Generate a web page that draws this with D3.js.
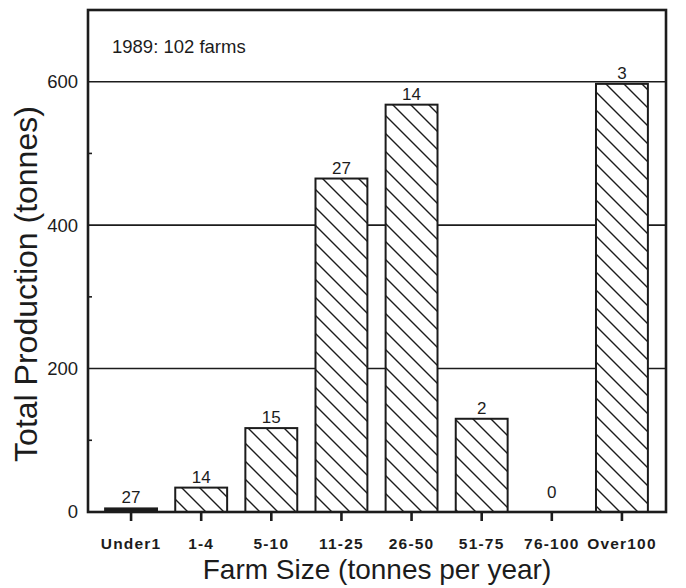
<!DOCTYPE html>
<html><head><meta charset="utf-8">
<script src="https://cdn.jsdelivr.net/npm/d3@7"></script>
<style>body{margin:0;background:#fff;}svg{display:block;font-family:"Liberation Sans",Arial,Helvetica,sans-serif;}</style>
</head><body>
<svg id="c" width="686" height="588"></svg>
<script>
const categories = ["Under 1","1-4","5-10","11-25","26-50","51-75","76-100","Over 100"];
const tickLabels = ["Under1","1-4","5-10","11-25","26-50","51-75","76-100","Over100"];
const production = [5, 34, 117, 465, 568, 130, 0, 597];
const farmCounts = [27, 14, 15, 27, 14, 2, 0, 3];
const gridTicks = [200, 400, 600];
const yLabelTicks = [0, 200, 400, 600];
const minorTicks = [100, 300, 500];
const annotation = "1989: 102 farms";

const svg = d3.select("#c");
const frame = {l: 88, r: 666, t: 10, b: 512};
const ink = "#1c1c1c";

const x = d3.scaleBand().domain(categories).range([96, 657]).paddingInner(0.26).paddingOuter(0.13);
const y = d3.scaleLinear().domain([0, 700]).range([frame.b, frame.t]);

const defs = svg.append("defs");
const pat = defs.append("pattern").attr("id","hatch").attr("patternUnits","userSpaceOnUse")
  .attr("width",18).attr("height",18);
pat.append("rect").attr("width",18).attr("height",18).attr("fill","#fff");
pat.append("path").attr("d","M-4.5,13.5 L4.5,22.5 M0,0 L18,18 M13.5,-4.5 L22.5,4.5")
  .attr("stroke",ink).attr("stroke-width",1.4);

// gridlines
svg.append("g").selectAll("line").data(gridTicks).join("line")
  .attr("x1",frame.l).attr("x2",frame.r)
  .attr("y1",d=>y(d)).attr("y2",d=>y(d))
  .attr("stroke",ink).attr("stroke-width",1.6);

// minor ticks inside left axis
svg.append("g").selectAll("line").data(minorTicks).join("line")
  .attr("x1",frame.l).attr("x2",frame.l+4)
  .attr("y1",d=>y(d)).attr("y2",d=>y(d))
  .attr("stroke",ink).attr("stroke-width",1.6);

// bars
svg.append("g").selectAll("rect").data(categories).join("rect")
  .attr("x",d=>x(d)).attr("width",x.bandwidth())
  .attr("y",(d,i)=>y(production[i])).attr("height",(d,i)=>y(0)-y(production[i]))
  .attr("fill",(d,i)=>i===0?ink:"url(#hatch)")
  .attr("stroke",ink).attr("stroke-width",(d,i)=>production[i]>0?2:0);

// count labels
svg.append("g").selectAll("text").data(categories).join("text")
  .attr("x",d=>x(d)+x.bandwidth()/2)
  .attr("y",(d,i)=>y(production[i]) - (production[i]>0?5:14))
  .attr("text-anchor","middle").attr("font-size",17).attr("fill",ink)
  .text((d,i)=>farmCounts[i]);

// frame
svg.append("rect").attr("x",frame.l).attr("y",frame.t)
  .attr("width",frame.r-frame.l).attr("height",frame.b-frame.t)
  .attr("fill","none").attr("stroke",ink).attr("stroke-width",2.6);

// x axis ticks
const xAxis = d3.axisBottom(x).tickSize(9).tickPadding(17).tickFormat((d,i)=>tickLabels[i]);
const gx = svg.append("g").attr("transform",`translate(0,${frame.b})`).call(xAxis);
gx.select(".domain").remove();
gx.selectAll(".tick line").attr("stroke",ink).attr("stroke-width",2.6);
gx.selectAll(".tick text").attr("font-size",15.5).attr("font-weight","bold").attr("fill",ink)
  .attr("letter-spacing","1.2px")
  .attr("font-family","'Liberation Sans',Arial,sans-serif");

// y axis labels
const yAxis = d3.axisLeft(y).tickValues(yLabelTicks).tickSize(0).tickPadding(10);
const gy = svg.append("g").attr("transform",`translate(${frame.l},0)`).call(yAxis);
gy.select(".domain").remove();
gy.selectAll(".tick text").attr("font-size",18.5).attr("fill",ink)
  .attr("font-family","'Liberation Sans',Arial,sans-serif");

// annotation
svg.append("text").attr("x",112).attr("y",53).attr("font-size",18.5).attr("fill",ink).text(annotation);

// axis titles
svg.append("text").attr("x",377).attr("y",579).attr("text-anchor","middle")
  .attr("font-size",28).attr("fill",ink).text("Farm Size (tonnes per year)");
svg.append("text").attr("transform","translate(37,284) rotate(-90)")
  .attr("text-anchor","middle").attr("font-size",32).attr("fill",ink).text("Total Production (tonnes)");
</script>
</body></html>
